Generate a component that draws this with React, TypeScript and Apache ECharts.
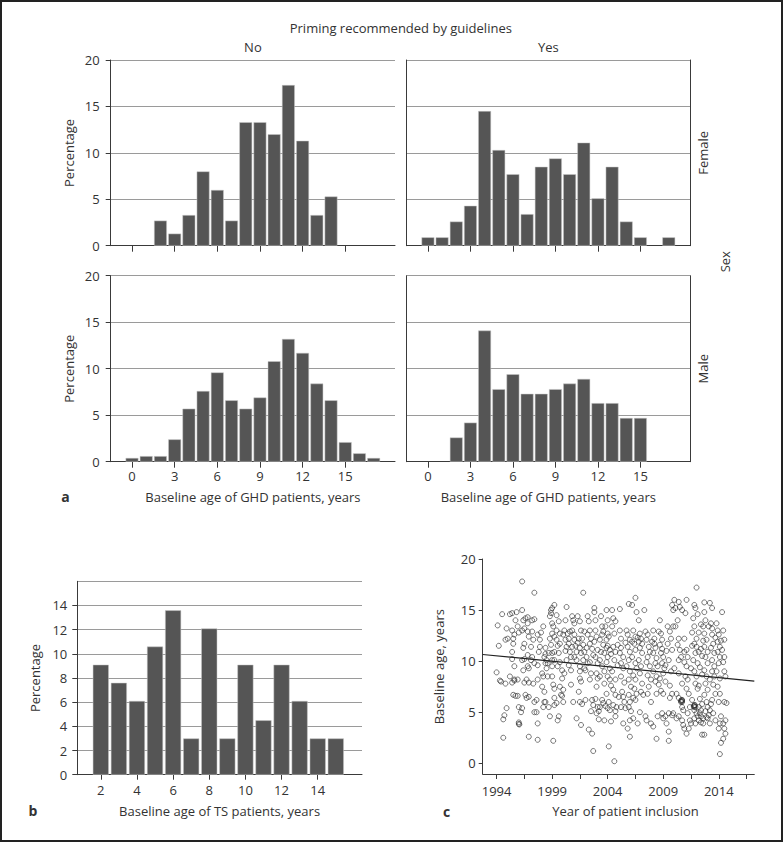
import React, { useEffect, useRef } from "react";
import * as echarts from "echarts";

// ---------- DATA ----------
const ageBins = [0, 1, 2, 3, 4, 5, 6, 7, 8, 9, 10, 11, 12, 13, 14, 15, 16, 17];
const ageTicks = [0, 3, 6, 9, 12, 15];
const femaleNo = [0, 0, 2.7, 1.3, 3.3, 8.0, 6.0, 2.7, 13.3, 13.3, 12.0, 17.3, 11.3, 3.3, 5.3, 0, 0, 0];
const femaleYes = [0.9, 0.9, 2.6, 4.3, 14.5, 10.3, 7.7, 3.4, 8.5, 9.4, 7.7, 11.1, 5.1, 8.5, 2.6, 0.9, 0, 0.9];
const maleNo = [0.4, 0.6, 0.6, 2.4, 5.7, 7.6, 9.6, 6.6, 5.7, 6.9, 10.8, 13.2, 11.7, 8.4, 6.6, 2.1, 0.9, 0.4];
const maleYes = [0, 0, 2.6, 4.2, 14.1, 7.8, 9.4, 7.3, 7.3, 7.8, 8.4, 8.9, 6.3, 6.3, 4.7, 4.7, 0, 0];

const tsAges = [2, 3, 4, 5, 6, 7, 8, 9, 10, 11, 12, 13, 14, 15];
const tsPct = [9.1, 7.6, 6.1, 10.6, 13.6, 3.0, 12.1, 3.0, 9.1, 4.5, 9.1, 6.1, 3.0, 3.0];
const tsTicks = [2, 4, 6, 8, 10, 12, 14];

const yearTicks = [1994, 1996.5, 1999, 2001.5, 2004, 2006.5, 2009, 2011.5, 2014, 2016.5];
const yearLabels = [1994, 1999, 2004, 2009, 2014];
const ageLabelsC = [0, 5, 10, 15, 20];
const trendYears = [1992.75, 2017.2];
const trendAges = [10.65, 8.05];

const inclusion: [number, number][] = [
  [1994.1,13.5],[1994.2,11.5],[1994.0,8.9],[1994.3,8.1],[1994.4,8.0],[1994.5,14.6],[1994.6,4.3],[1994.7,4.7],[1994.6,2.5],[1994.9,5.4],[1994.8,7.8],[1994.9,13.2],[1995.0,12.2],[1994.8,12.1],[1995.2,14.6],[1995.4,14.7],[1995.4,13.0],[1995.5,12.2],[1995.5,11.7],[1995.4,10.9],[1995.4,10.2],[1995.6,9.5],[1995.2,8.5],[1995.4,7.9],[1995.6,8.2],[1995.5,6.7],[1995.6,8.1],[1995.7,6.6],[1995.8,14.8],[1995.7,14.0],[1995.9,13.4],[1996.0,12.8],[1995.6,12.6],[1995.9,8.2],[1995.9,6.6],[1996.0,5.5],[1996.0,4.0],[1996.2,5.0],[1996.3,15.0],[1996.4,14.0],[1996.5,13.2],[1996.3,13.0],[1996.5,11.7],[1996.4,11.3],[1996.3,10.1],[1996.5,10.2],[1996.5,7.9],[1996.7,8.2],[1996.6,6.7],[1996.7,6.4],[1996.3,5.4],[1996.4,9.1],[1996.6,14.2],[1996.8,13.7],[1996.8,12.9],[1996.9,12.4],[1996.8,10.6],[1996.8,9.5],[1996.9,9.3],[1996.9,7.9],[1996.9,6.5],[1996.8,14.3],[1997.1,11.4],[1997.1,10.1],[1997.2,14.0],[1997.2,12.9],[1997.3,12.1],[1997.2,10.4],[1997.4,9.8],[1997.3,7.8],[1997.4,6.0],[1997.4,5.0],[1997.6,5.0],[1997.7,3.9],[1997.6,6.2],[1997.7,8.2],[1997.7,9.6],[1997.8,10.9],[1997.9,11.4],[1997.9,12.1],[1997.7,12.6],[1998.0,12.8],[1998.2,13.4],[1998.1,8.8],[1998.2,8.5],[1998.1,7.5],[1998.3,7.0],[1998.3,6.0],[1998.2,5.5],[1998.4,11.3],[1998.3,10.4],[1998.4,10.7],[1998.5,10.1],[1998.4,9.8],[1998.5,9.3],[1998.6,8.5],[1998.4,6.0],[1998.7,5.5],[1998.8,4.6],[1998.6,9.8],[1998.7,10.8],[1998.8,14.4],[1998.9,14.7],[1999.0,15.2],[1999.2,15.5],[1998.9,15.0],[1999.0,13.7],[1999.0,12.7],[1998.8,12.2],[1999.1,13.4],[1999.2,12.4],[1998.9,11.6],[1999.0,10.8],[1999.0,10.1],[1999.0,9.5],[1999.2,10.1],[1999.2,10.9],[1999.0,8.5],[1999.1,7.7],[1999.2,7.3],[1999.2,6.4],[1999.2,5.7],[1999.4,5.9],[1999.5,4.2],[1999.1,2.2],
  [1996.3,17.8],[1997.4,16.7],[1996.9,2.6],[1997.7,2.3],[1996.0,3.85],[1996.05,3.8],[1997.4,14.1],
  [1999.4,14.5],[1999.6,13.9],[1999.4,13.0],[1999.7,12.7],[1999.4,12.1],[1999.5,11.5],[1999.7,11.7],[1999.6,10.8],[1999.7,9.9],[1999.5,9.5],[1999.9,9.1],[1999.9,8.3],[1999.7,7.5],[2000.0,7.2],[1999.8,6.7],[2000.0,6.0],[1999.9,6.6],[2000.3,15.3],[2000.2,14.0],[2000.1,13.0],[2000.4,12.7],[2000.2,12.1],[2000.0,12.6],[2000.5,12.2],[2000.3,11.4],[2000.5,11.7],[2000.6,10.9],[2000.3,10.1],[2000.5,9.6],[2000.7,10.4],[2000.8,14.4],[2000.9,14.0],[2001.0,13.7],[2000.8,13.0],[2001.0,12.6],[2001.0,12.1],[2000.8,11.4],[2001.1,11.5],[2001.2,10.9],[2001.0,10.4],[2001.2,10.1],[2000.7,9.1],[2000.7,7.7],[2001.2,4.4],[2001.3,14.4],[2001.5,13.9],[2001.6,13.0],[2001.4,12.2],[2001.5,11.3],[2001.6,10.8],[2001.5,9.5],[2001.5,9.0],[2001.5,8.3],[2001.6,8.0],[2001.4,7.0],[2001.5,6.0],[2001.6,3.75],[2001.7,12.2],[2001.8,11.6],[2001.9,10.9],[2001.8,10.1],[2001.9,9.3],[2002.1,10.4],[2002.2,9.8],[2002.0,9.1],[2002.2,12.6],[2002.2,14.4],[2002.3,13.9],[2002.4,13.0],[2002.5,12.2],[2002.4,11.7],[2002.6,11.2],[2002.4,9.9],[2002.5,8.8],[2002.4,8.2],[2002.6,6.2],[2002.7,5.7],[2002.5,5.1],[2002.3,3.3],[2002.6,2.9],[2002.8,15.2],[2002.8,14.8],[2002.9,14.0],[2002.9,13.0],[2003.0,12.4],[2002.8,11.9],[2003.1,11.1],[2002.9,10.4],[2003.1,9.8],[2003.0,8.8],[2003.1,8.3],[2003.0,7.5],[2003.1,5.5],[2003.0,4.9],[2003.2,5.1],[2003.3,5.5],
  [2001.8,16.7],[2002.7,1.2],[2000.2,11.0],[2000.6,12.9],[2001.3,11.8],[2001.9,12.9],[2002.1,11.3],[2002.7,10.6],[2000.1,8.8],[2000.9,6.0],[2002.0,6.2],[2002.9,6.3],[2001.7,5.8],[1999.6,4.6],[2003.2,4.3],
  [2003.4,14.4],[2003.5,13.4],[2003.5,12.6],[2003.3,12.1],[2003.6,11.6],[2003.4,10.9],[2003.7,10.8],[2003.3,10.1],[2003.5,9.5],[2003.7,9.0],[2003.3,8.5],[2003.7,7.8],[2003.5,6.2],[2003.6,5.9],[2003.7,4.2],[2003.9,15.0],[2004.0,14.0],[2003.8,13.4],[2004.0,12.7],[2003.9,12.1],[2004.1,12.4],[2004.0,11.5],[2003.9,11.3],[2004.2,11.1],[2004.0,10.4],[2003.9,9.9],[2004.2,9.3],[2004.0,8.5],[2004.2,8.2],[2003.9,6.8],[2004.1,6.0],[2004.0,5.4],[2004.2,5.2],[2004.3,4.1],[2004.4,15.0],[2004.5,14.2],[2004.7,13.9],[2004.4,13.4],[2004.6,12.7],[2004.5,11.4],[2004.7,10.9],[2004.6,10.1],[2004.4,9.0],[2004.7,8.2],[2004.5,7.2],[2004.7,6.7],[2004.5,5.7],[2004.7,5.1],[2004.7,4.6],[2004.8,5.5],[2005.0,6.5],[2005.1,15.1],[2005.1,13.0],[2005.2,12.2],[2004.9,11.6],[2005.2,11.3],[2005.1,10.8],[2005.4,10.4],[2005.2,9.8],[2005.4,9.3],[2005.2,8.5],[2005.5,7.9],[2005.4,6.5],[2005.2,5.5],[2005.5,6.0],[2005.6,5.4],[2005.4,3.9],[2005.7,13.0],[2005.8,12.6],[2006.0,12.1],[2005.8,11.4],[2006.0,10.9],[2005.9,10.1],[2005.7,9.5],[2006.0,9.0],[2005.9,8.2],[2006.1,7.5],[2005.9,6.7],[2006.0,6.0],[2005.9,5.5],[2006.1,5.1],[2006.0,4.2],[2005.9,15.6],[2006.0,2.6],[2006.2,15.5],[2006.3,13.0],[2006.5,12.4],[2006.4,11.7],[2006.5,11.1],[2006.2,10.4],[2006.5,9.8],[2006.6,9.3],[2006.3,8.6],[2006.5,8.2],[2006.4,7.3],[2006.6,6.8],[2006.5,6.2],[2006.3,4.4],[2006.7,3.9],[2006.5,16.2],[2006.6,14.8],[2006.8,14.0],[2006.9,12.7],[2007.0,12.2],[2006.8,11.9],[2007.1,11.7],[2006.9,11.3],[2007.1,10.8],[2006.8,10.1],[2007.0,9.5],[2006.9,8.8],[2007.1,7.8],[2007.0,7.0],[2007.2,6.7],[2007.4,4.6],[2007.5,4.2],
  [2004.1,1.65],[2004.6,0.2],[2003.6,12.9],[2004.3,10.7],[2004.9,9.6],[2005.6,11.8],[2006.2,11.9],[2006.7,12.3],[2005.3,7.0],[2006.3,6.4],[2004.3,7.6],[2003.8,5.6],[2005.8,3.4],[2006.9,5.0],
  [2007.3,15.0],[2007.4,12.9],[2007.6,12.6],[2007.5,12.1],[2007.7,11.4],[2007.6,10.4],[2007.5,9.9],[2007.8,9.5],[2007.6,8.6],[2007.9,8.2],[2007.7,7.5],[2007.6,6.8],[2007.9,6.0],[2007.9,3.9],[2008.1,3.6],[2008.1,13.0],[2008.2,12.2],[2008.2,11.7],[2008.3,11.3],[2008.1,10.8],[2008.4,10.3],[2008.3,9.8],[2008.5,9.5],[2008.1,9.0],[2008.4,8.5],[2008.3,8.0],[2008.6,7.7],[2008.4,6.8],[2008.5,4.6],[2008.4,2.4],[2008.7,14.0],[2008.8,12.7],[2008.9,12.1],[2008.7,11.6],[2008.9,11.2],[2008.8,10.8],[2009.0,10.4],[2008.9,9.8],[2009.1,9.3],[2009.0,8.8],[2008.7,8.3],[2009.2,8.0],[2009.0,6.8],[2008.9,4.9],[2009.2,4.6],[2009.0,4.4],[2009.3,3.9],[2009.5,3.1],[2009.5,2.2],[2009.4,13.4],[2009.6,12.9],[2009.7,12.2],[2009.4,11.7],[2009.8,11.1],[2009.5,10.1],[2009.7,9.0],[2009.8,6.8],[2009.6,6.4],[2009.5,4.9],[2009.8,4.7],[2009.9,4.9],[2009.8,15.5],[2010.0,16.0],[2009.9,15.0],[2010.1,15.2],[2009.9,13.4],[2010.1,13.4],[2010.3,14.0],[2010.4,15.8],[2010.5,15.3],[2010.7,15.0],[2010.4,12.2],[2010.5,11.1],[2010.4,10.1],[2010.6,10.4],[2010.4,8.8],[2010.7,7.8],[2010.2,6.8],[2010.4,6.4],[2010.6,6.0],[2010.7,6.2],[2010.7,5.5],[2010.8,5.2],[2010.4,4.6],[2010.7,4.2],[2010.2,4.4],[2010.8,3.75],[2010.9,3.4],[2011.1,2.9],[2011.1,16.0],[2011.0,14.7],[2010.9,12.2],[2011.1,11.1],[2011.2,10.4],[2010.9,9.9],[2011.1,9.5],[2011.0,8.5],[2011.2,8.2],[2011.1,7.3],[2011.3,6.8],
  [2010.6,6.1],[2010.7,6.1],[2010.65,6.2],[2010.7,6.0],[2008.0,11.9],[2008.6,12.9],[2009.3,11.0],[2009.2,9.6],[2010.0,9.3],[2010.3,11.6],[2007.8,10.9],[2008.8,7.1],[2009.6,7.6],[2010.9,10.9],
  [2011.4,5.5],[2011.2,4.9],[2011.4,4.2],[2011.5,3.9],[2011.3,3.4],[2011.6,6.2],[2011.7,14.2],[2011.8,15.5],[2012.0,17.2],[2011.9,15.2],[2011.8,13.4],[2012.0,12.2],[2011.8,11.7],[2012.0,11.4],[2011.9,10.8],[2011.7,10.1],[2012.1,9.8],[2011.8,9.0],[2012.0,8.5],[2011.9,7.8],[2012.1,7.3],[2011.8,5.7],[2011.9,5.5],[2011.8,5.2],[2012.0,4.9],[2012.1,4.6],[2011.8,4.4],[2012.2,4.2],[2011.9,3.9],[2012.3,4.9],[2012.4,5.2],[2012.5,2.8],[2012.7,15.75],[2012.7,14.8],[2012.8,14.0],[2012.6,13.4],[2012.7,12.7],[2012.9,12.1],[2012.7,11.4],[2013.0,10.9],[2012.8,10.4],[2013.0,9.8],[2012.7,9.1],[2012.9,8.5],[2012.8,7.8],[2013.0,7.2],[2012.7,6.7],[2012.9,6.0],[2013.0,5.5],[2012.8,5.1],[2013.1,4.7],[2012.7,2.8],[2013.2,15.7],[2013.4,15.2],[2013.3,13.7],[2013.4,13.2],[2013.4,12.6],[2013.5,11.7],[2013.3,11.3],[2013.6,10.8],[2013.4,10.1],[2013.6,9.5],[2013.4,9.0],[2013.6,8.5],[2013.5,7.7],[2013.7,6.8],[2013.4,6.2],[2013.5,4.9],[2013.7,4.2],[2013.8,13.7],[2013.9,13.0],[2014.0,12.6],[2013.9,11.9],[2014.1,11.4],[2013.9,10.9],[2014.1,10.4],[2014.0,9.8],[2013.8,9.0],[2014.1,8.3],[2013.9,7.5],[2014.1,6.8],[2014.0,6.0],[2014.2,4.6],[2014.1,3.9],[2014.0,3.4],[2014.2,2.0],[2014.1,0.9],[2014.3,14.8],[2014.4,13.0],[2014.5,12.1],[2014.3,11.1],[2014.5,10.4],[2014.4,9.9],[2014.5,9.0],[2014.5,6.0],[2014.4,3.9],[2014.5,3.4],[2014.6,2.9],[2014.4,2.4],[2014.6,4.2],[2014.7,5.9],[2014.6,8.5],
  [2011.75,5.6],[2011.8,5.5],[2011.85,5.7],[2011.8,5.6],[2012.2,5.5],[2012.4,4.6],[2012.5,5.8],[2012.6,4.4],[2012.3,6.3],[2012.9,4.5],[2013.2,5.2],[2013.0,4.4],[2012.6,3.9],[2012.4,4.0],[2013.2,3.9],[2013.3,5.8],[2012.2,12.8],[2012.4,11.2],[2012.5,10.5],[2012.3,9.4],[2012.5,8.7],[2012.2,7.6],[2012.4,13.6],[2012.6,12.0],[2012.1,14.6],[2013.1,13.4],[2013.7,12.3],[2014.2,12.0],[2013.2,8.2],[2011.6,11.5],[2011.5,9.3],[2011.6,12.8],[2012.2,10.9]
];

// ---------- LAYOUT ----------
const TXT = "#333";
const FONT = "Open Sans";
const AX = "#3a3a3a";
const GRIDC = "#9a9a9a";
const BAR = "#555555";

const toPairs = (xs: number[], ys: number[]) =>
  xs.map((x, i) => [x, ys[i]]).filter((p) => p[1] > 0);

export default function App() {
  const ref = useRef<HTMLDivElement>(null);
  useEffect(() => {
    if (!ref.current) return;
    const chart = echarts.init(ref.current, null, { renderer: "svg" });

    const grids = [
      { left: 110.7, top: 60, width: 284.3, height: 185.7 },
      { left: 406.7, top: 60, width: 283.3, height: 185.7 },
      { left: 110.7, top: 275.7, width: 284.3, height: 186 },
      { left: 406.7, top: 275.7, width: 283.3, height: 186 },
      { left: 77.3, top: 581.3, width: 284.7, height: 193.4 },
      { left: 482.7, top: 559, width: 271.6, height: 215 },
    ];

    const lbl = { color: TXT, fontSize: 13, fontFamily: FONT };

    const histX = (gi: number, showLabels: boolean) => ({
      type: "value",
      gridIndex: gi,
      min: -1.5,
      max: 18.5,
      axisLine: { show: true, onZero: false, lineStyle: { color: AX, width: 1 } },
      axisTick: { show: true, customValues: ageTicks, length: 6, lineStyle: { color: AX } },
      axisLabel: { show: showLabels, customValues: ageTicks, margin: 8, ...lbl, formatter: (v: number) => String(v) },
      splitLine: { show: false },
    });
    const histY = (gi: number, left: boolean) => ({
      type: "value",
      gridIndex: gi,
      min: 0,
      max: 20,
      interval: 5,
      axisLine: { show: true, onZero: false, lineStyle: { color: AX, width: 1 } },
      axisTick: { show: left, length: 5, lineStyle: { color: AX } },
      axisLabel: { show: left, margin: 11, ...lbl },
      splitLine: { show: true, lineStyle: { color: GRIDC, width: 1 } },
    });
    const rightBorder = (gi: number) => ({
      type: "value",
      gridIndex: gi,
      position: "right",
      min: 0,
      max: 20,
      axisLine: { show: true, onZero: false, lineStyle: { color: AX, width: 1 } },
      axisTick: { show: false },
      axisLabel: { show: false },
      splitLine: { show: false },
    });

    const xAxes: any[] = [
      histX(0, false),
      histX(1, false),
      histX(2, true),
      histX(3, true),
      {
        type: "value", gridIndex: 4, min: 0.7, max: 16.45,
        axisLine: { show: true, onZero: false, lineStyle: { color: AX } },
        axisTick: { show: true, customValues: tsTicks, length: 5, lineStyle: { color: AX } },
        axisLabel: { customValues: tsTicks, margin: 9, ...lbl, formatter: (v: number) => String(v) },
        splitLine: { show: false },
      },
      {
        type: "value", gridIndex: 5, min: 1992.75, max: 2017.2,
        axisLine: { show: true, onZero: false, lineStyle: { color: AX } },
        axisTick: { show: true, customValues: yearTicks, length: 5, lineStyle: { color: AX } },
        axisLabel: { customValues: yearLabels, margin: 10, ...lbl, formatter: (v: number) => String(v) },
        splitLine: { show: false },
      },
    ];
    const yAxes: any[] = [
      histY(0, true),
      histY(1, false),
      histY(2, true),
      histY(3, false),
      {
        type: "value", gridIndex: 4, min: 0, max: 16, interval: 2,
        axisLine: { show: true, onZero: false, lineStyle: { color: AX } },
        axisTick: { show: true, length: 5, lineStyle: { color: AX } },
        axisLabel: { margin: 10, showMaxLabel: false, ...lbl },
        splitLine: { show: true, lineStyle: { color: GRIDC } },
      },
      {
        type: "value", gridIndex: 5, min: -1.05, max: 20,
        axisLine: { show: true, onZero: false, lineStyle: { color: AX } },
        axisTick: { show: true, customValues: ageLabelsC, length: 4, lineStyle: { color: AX } },
        axisLabel: { customValues: ageLabelsC, margin: 7, ...lbl, formatter: (v: number) => String(v) },
        splitLine: { show: false },
      },
      rightBorder(1),
      rightBorder(3),
    ];

    const barSeries = (xi: number, data: number[][], w: number) => ({
      type: "bar",
      xAxisIndex: xi,
      yAxisIndex: xi,
      data,
      barWidth: w,
      silent: true,
      itemStyle: { color: BAR, borderColor: "#c8c8c8", borderWidth: 0.5 },
    });

    const texts: any[] = [
      { t: "Priming recommended by guidelines", x: 400.8, y: 28.3 },
      { t: "No", x: 252.9, y: 47.3 },
      { t: "Yes", x: 548.3, y: 47.3 },
      { t: "Baseline age of GHD patients, years", x: 252.9, y: 496.7 },
      { t: "Baseline age of GHD patients, years", x: 548.3, y: 496.7 },
      { t: "Baseline age of TS patients, years", x: 219.6, y: 810.7 },
      { t: "Year of patient inclusion", x: 625.5, y: 810.7 },
      { t: "Percentage", x: 69, y: 152.9, r: true },
      { t: "Percentage", x: 69, y: 368.7, r: true },
      { t: "Percentage", x: 35, y: 678, r: true },
      { t: "Baseline age, years", x: 439.3, y: 666.7, r: true },
      { t: "Female", x: 703.3, y: 152.9, r: true },
      { t: "Male", x: 703.3, y: 368.7, r: true },
      { t: "Sex", x: 725, y: 261.7, r: true },
      { t: "a", x: 65.5, y: 496.7, b: true },
      { t: "b", x: 33, y: 810.7, b: true },
      { t: "c", x: 446.7, y: 811.7, b: true },
    ];

    chart.setOption({
      animation: false,
      grid: grids,
      xAxis: xAxes,
      yAxis: yAxes,
      series: [
        barSeries(0, toPairs(ageBins, femaleNo), 12.8),
        barSeries(1, toPairs(ageBins, femaleYes), 12.8),
        barSeries(2, toPairs(ageBins, maleNo), 12.8),
        barSeries(3, toPairs(ageBins, maleYes), 12.8),
        barSeries(4, toPairs(tsAges, tsPct), 16),
        {
          type: "scatter",
          xAxisIndex: 5,
          yAxisIndex: 5,
          data: inclusion,
          symbol: "circle",
          symbolSize: 5,
          silent: true,
          itemStyle: { color: "rgba(255,255,255,0)", borderColor: "#2a2a2a", borderWidth: 0.8 },
        },
        {
          type: "line",
          xAxisIndex: 5,
          yAxisIndex: 5,
          data: trendYears.map((y, i) => [y, trendAges[i]]),
          symbol: "none",
          silent: true,
          lineStyle: { color: "#222", width: 1.2 },
        },
      ],
      graphic: [
        {
          type: "rect",
          shape: { x: 1, y: 1, width: 781, height: 840 },
          style: { fill: "none", stroke: "#222", lineWidth: 2 },
          silent: true,
        },
        ...texts.map((d) => ({
          type: "text",
          x: d.x,
          y: d.y,
          rotation: d.r ? Math.PI / 2 : 0,
          silent: true,
          style: {
            text: d.t,
            fill: TXT,
            font: `${d.b ? "bold 14px" : "13px"} "${FONT}"`,
            textAlign: "center",
            textVerticalAlign: "middle",
          },
        })),
      ],
    });
    return () => chart.dispose();
  }, []);
  return (
    <div
      ref={ref}
      style={{ position: "absolute", left: 0, top: 0, width: 783, height: 842, background: "#fff" }}
    />
  );
}
